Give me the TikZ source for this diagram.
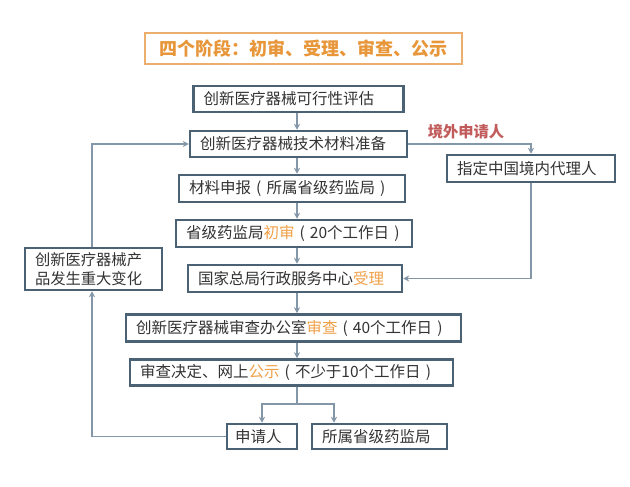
\documentclass[tikz,border=0pt]{standalone}
\usepackage{fontspec}
\setmainfont{Noto Sans CJK SC}
\usetikzlibrary{arrows.meta}
\definecolor{boxline}{HTML}{4B6274}
\definecolor{conn}{HTML}{8497A8}
\definecolor{txt}{HTML}{333333}
\definecolor{hl}{HTML}{F0A048}
\definecolor{ttl}{HTML}{E8963A}
\definecolor{ttlline}{HTML}{EBAE6C}
\definecolor{red2}{HTML}{C25C5C}
\tikzset{
  stepbox/.style={draw=boxline, line width=2.5pt, fill=white, text=txt, inner xsep=10pt, inner ysep=0pt,
    font=\fontsize{15.5}{18}\selectfont},
  conn/.style={draw=conn, line width=1.1pt},
  arr/.style={conn, -{Stealth[length=6pt,width=6pt]}},
}
\newcommand{\hlt}[1]{\textcolor{hl}{#1}}
\newcommand{\bxt}[2]{\makebox[#1][l]{#2}}
\newcommand{\lpar}{\makebox[1em][c]{(}}
\newcommand{\rpar}{\makebox[1em][c]{)}}
\begin{document}
\begin{tikzpicture}[x=1pt,y=-1pt]
\useasboundingbox (0,0) rectangle (630,487);
\fill[white] (0,0) rectangle (630,487);
% title
\node[draw=ttlline, line width=2.2pt, text=ttl, minimum width=317pt, minimum height=31pt, inner sep=0pt,
  font=\fontsize{18}{20}\selectfont\bfseries] (title) at (303.5,48.5) {\makebox[307pt][c]{四个阶段：初审、受理、审查、公示}};
% main boxes
\node[stepbox, minimum height=26pt] (b1) at (298.5,99) {\bxt{190pt}{创新医疗器械可行性评估}};
\node[stepbox, minimum height=26pt] (b2) at (298.5,144) {\bxt{197pt}{创新医疗器械技术材料准备}};
\node[stepbox, minimum height=27pt] (b3) at (292,188.5) {\bxt{206pt}{材料申报\lpar 所属省级药监局\rpar}};
\node[stepbox, minimum height=27pt] (b4) at (294,233.5) {\bxt{216pt}{省级药监局\hlt{初审}\lpar 20个工作日\rpar}};
\node[stepbox, minimum height=27pt] (b5) at (295,278.5) {\bxt{194pt}{国家总局行政服务中心\hlt{受理}}};
\node[stepbox, minimum height=27pt] (b6) at (293.5,328) {\bxt{315pt}{创新医疗器械审查办公室\hlt{审查}\lpar 40个工作日\rpar}};
\node[stepbox, minimum height=26pt] (b7) at (291.5,372.5) {\bxt{303pt}{审查决定、网上\hlt{公示}\lpar 不少于10个工作日\rpar}};
\node[stepbox, minimum height=25pt, inner xsep=8pt] (b8) at (262,436.5) {\bxt{54pt}{申请人}};
\node[stepbox, minimum height=25pt] (b9) at (379.5,436.5) {\bxt{115pt}{所属省级药监局}};
\node[stepbox, minimum height=42pt, text width=117pt, align=left, font=\fontsize{15.3}{19}\selectfont] (lb) at (93.5,269) {创新医疗器械产\\品发生重大变化};
\node[stepbox, minimum height=27pt] (rb) at (531,168.5) {\bxt{148pt}{指定中国境内代理人}};
\node[text=red2, font=\fontsize{15.3}{18}\selectfont\bfseries, inner sep=0pt] (lab) at (466,131.5) {境外申请人};
% spine
\coordinate (sp) at (297,0);
\coordinate (lx) at (92,0);
\coordinate (b9in) at (334,0);
\coordinate (j) at (297,404);
\draw[arr] (b1.south -| sp) -- (b2.north -| sp);
\draw[arr] (b2.south -| sp) -- (b3.north -| sp);
\draw[arr] (b3.south -| sp) -- (b4.north -| sp);
\draw[arr] (b4.south -| sp) -- (b5.north -| sp);
\draw[arr] (b5.south -| sp) -- (b6.north -| sp);
\draw[arr] (b6.south -| sp) -- (b7.north -| sp);
\draw[conn] (b7.south -| sp) -- (j);
\draw[arr] (j) -| (b8.north);
\draw[arr] (j) -| (b9.north -| b9in);
% loops
\draw[arr] (b8.west) -| (lb.south -| lx);
\draw[arr] (lb.north -| lx) |- (b2.west);
\draw[arr] (b2.east) -| (rb.north);
\draw[arr] (rb.south) |- (b5.east);
\end{tikzpicture}
\end{document}
